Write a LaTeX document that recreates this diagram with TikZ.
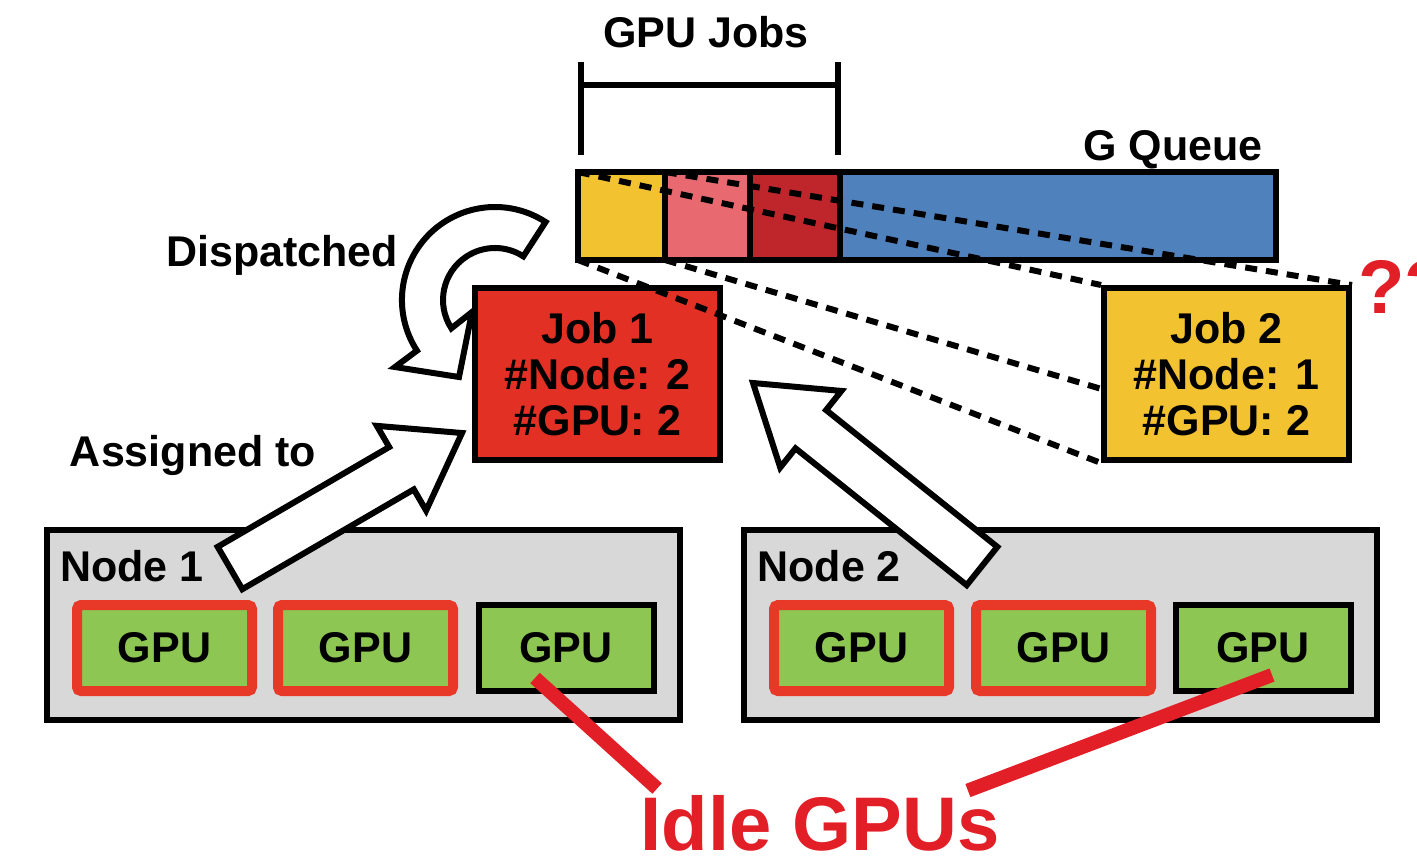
\documentclass[tikz,border=0pt]{standalone}
\usepackage{fontspec}
\setmainfont{Liberation Sans}
\usetikzlibrary{calc}
\definecolor{qyellow}{RGB}{242,194,48}
\definecolor{qpink}{RGB}{232,106,112}
\definecolor{qdark}{RGB}{190,38,44}
\definecolor{qblue}{RGB}{79,129,189}
\definecolor{jobred}{RGB}{226,48,36}
\definecolor{nodegrey}{RGB}{216,216,216}
\definecolor{gpugreen}{RGB}{141,198,82}
\definecolor{busyred}{RGB}{232,56,40}
\definecolor{idlered}{RGB}{226,30,38}

\begin{document}
\begin{tikzpicture}[x=0.5pt,y=-0.5pt,
  every node/.style={font=\fontsize{21.5}{23}\selectfont\bfseries,inner sep=0pt},
  cell/.style={draw,line width=3pt,outer sep=0pt,minimum height=44pt},
  jobbox/.style={draw,line width=3pt,minimum width=122.5pt,minimum height=86pt,align=center},
  nodebox/.style={draw,line width=3pt,fill=nodegrey,minimum width=316.5pt,minimum height=95pt},
  gpu/.style={fill=gpugreen,minimum width=87.5pt,minimum height=43pt},
  gpubusy/.style={gpu,draw=busyred,line width=5pt,rounded corners=2pt},
  gpuidle/.style={gpu,draw,line width=3pt},
  hollow/.style={draw,line width=3pt,fill=white,line join=miter},
  proj/.style={line width=3pt,dash pattern=on 6pt off 4.5pt},
  idleline/.style={draw=idlered,line width=7pt},
  big/.style={font=\fontsize{38}{40}\selectfont\bfseries,text=idlered}
]
  \useasboundingbox (0,0) rectangle (1417,864);

  % queue of jobs
  \node[anchor=base] (jobs) at (706,47) {GPU Jobs};
  \draw[line width=3pt] (581,62) -- (581,155) (838,62) -- (838,155) (581,85) -- (838,85);
  \node[anchor=base] (gq) at (1173,160) {G Queue};
  \node[cell,fill=qyellow,minimum width=43.5pt] (q1) at (621.5,216) {};
  \node[cell,fill=qpink,minimum width=42.5pt] (q2) at (707.5,216) {};
  \node[cell,fill=qdark,minimum width=45pt] (q3) at (795,216) {};
  \node[cell,fill=qblue,minimum width=218pt] (q4) at (1058,216) {};

  % jobs
  \node[jobbox,fill=jobred] (job1) at (597.5,374) {Job 1\\\#Node: 2\\\#GPU: 2};
  \node[jobbox,fill=qyellow] (job2) at (1226.5,374) {Job 2\\\#Node: 1\\\#GPU: 2};
  \draw[proj] (q1.north west) -- (job2.north west);
  \draw[proj] (q1.north east) -- (job2.north east);
  \draw[proj] (q1.south west) -- (job2.south west);
  \draw[proj] (q1.south east) -- ($(q1.south east)!0.635!(job2.south east)$);
  \node[big,anchor=base west] (qq) at (1358,313) {??};

  % dispatch
  \node[anchor=base] (disp) at (282,266) {Dispatched};
  \draw[hollow] (545.6,222) arc[start angle=-57,end angle=-213,radius=93]
    -- (395,367) -- (459,377) -- (472,312) -- (451.4,328.3)
    arc[start angle=-213,end angle=-57,radius=52] -- cycle;

  % nodes and gpus
  \node[nodebox] (node1) at (363.5,625) {};
  \node[nodebox] (node2) at (1060,625) {};
  \node[anchor=base west] (n1lbl) at (60,581) {Node 1};
  \node[anchor=base west] (n2lbl) at (757,581) {Node 2};
  \node[gpubusy] (g11) at (164.5,648) {GPU};
  \node[gpubusy] (g12) at (365.5,648) {GPU};
  \node[gpuidle] (g13) at (566,648) {GPU};
  \node[gpubusy] (g21) at (861.5,648) {GPU};
  \node[gpubusy] (g22) at (1063.5,648) {GPU};
  \node[gpuidle] (g23) at (1263,648) {GPU};

  % assigned to
  \node[anchor=base] (asg) at (193,466) {Assigned to};
  \coordinate (a1s) at (230,568);
  \coordinate (a1e) at (462,433);
  \coordinate (a1b) at ($(a1e)!35pt!(a1s)$);
  \draw[hollow] ($(a1s)!12.25pt!90:(a1e)$) -- ($(a1b)!12.25pt!90:(a1e)$)
    -- ($(a1b)!24.5pt!90:(a1e)$) -- (a1e) -- ($(a1b)!24.5pt!-90:(a1e)$)
    -- ($(a1b)!12.25pt!-90:(a1e)$) -- ($(a1s)!12.25pt!-90:(a1e)$) -- cycle;
  \coordinate (a2s) at (982,566);
  \coordinate (a2e) at (753,383);
  \coordinate (a2b) at ($(a2e)!37pt!(a2s)$);
  \draw[hollow] ($(a2s)!12.25pt!90:(a2e)$) -- ($(a2b)!12.25pt!90:(a2e)$)
    -- ($(a2b)!24.5pt!90:(a2e)$) -- (a2e) -- ($(a2b)!24.5pt!-90:(a2e)$)
    -- ($(a2b)!12.25pt!-90:(a2e)$) -- ($(a2s)!12.25pt!-90:(a2e)$) -- cycle;

  % idle gpus
  \node[big,anchor=base] (idle) at (820,850) {Idle GPUs};
  \draw[idleline] ($(g13)+(-31,30)$) -- ([shift={(17,-6)}]idle.north west);
  \draw[idleline] ($(g23)+(9,27)$) -- ([shift={(-32,-4)}]idle.north east);
\end{tikzpicture}
\end{document}
